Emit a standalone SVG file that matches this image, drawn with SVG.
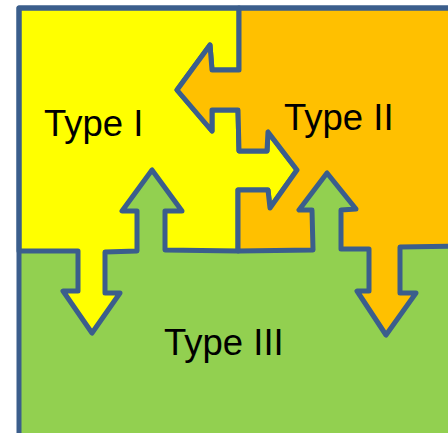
<svg xmlns="http://www.w3.org/2000/svg" width="448" height="433" viewBox="0 0 448 433">
<style>
.region{stroke:#3B5E8C;stroke-width:5;stroke-linejoin:round}
.lbl{font-family:"Liberation Sans",Arial,sans-serif;font-size:36.5px;fill:#000}
</style>
<rect x="0" y="0" width="448" height="433" fill="#ffffff"/>
<g id="type3">
<rect x="19" y="8" width="429" height="425" fill="#92D050"/>
<text class="lbl" x="164" y="355">Type III</text>
</g>
<g id="type1">
<path class="region" fill="#FFFF00" d="M19,8 L239,8 L239,70 L212,70 L210,45 L177,90 L212,131 L212,110 L238,110 L239,151 L267,151 L268,132 L297,170 L270,208 L268,190 L238,190 L238,251 L165,250 L165,211 L182,211 L152,170 L122,211 L137,211 L137,251 L105,252 L105,293 L120,293 L92,333 L63,291 L78,291 L78,251 L19,251 Z"/>
<text class="lbl" x="44" y="136">Type I</text>
</g>
<g id="type2">
<path class="region" fill="#FFC000" d="M239,8 L455,8 L455,246 L400,247 L400,293 L416,293 L386,335 L357,291 L369,291 L369,249 L341,249 L341,210 L356,209 L327,173 L299,210 L312,210 L313,250 L238,251 L238,190 L268,190 L270,208 L297,170 L268,132 L267,151 L239,151 L238,110 L212,110 L212,131 L177,90 L210,45 L212,70 L239,70 Z"/>
<text class="lbl" x="284" y="130">Type II</text>
</g>
<g id="frame">
<path d="M19,440 L19,8 L455,8" fill="none" stroke="#3B5E8C" stroke-width="5" stroke-linejoin="round"/>
</g>
</svg>
